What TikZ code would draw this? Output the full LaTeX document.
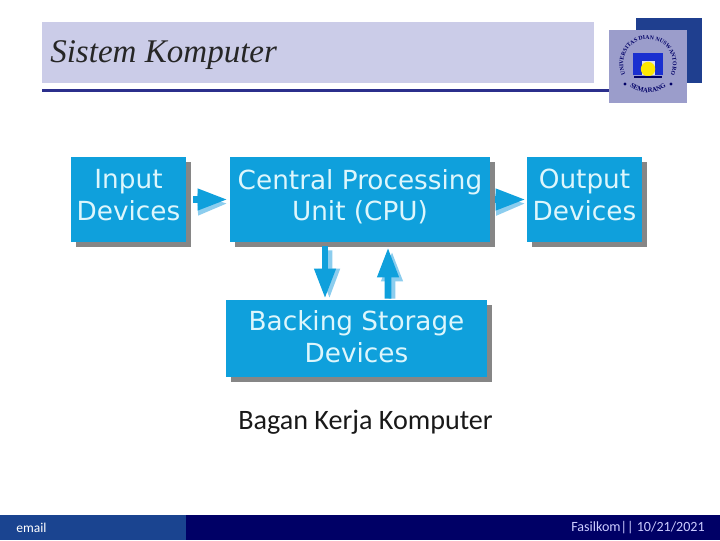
\documentclass[tikz,border=0pt]{standalone}
\usepackage{xcolor}
\usepackage{fontspec}
\setmainfont{Carlito}
\newfontfamily\titlefont{Liberation Serif}
\newfontfamily\boxfont{DejaVu Sans}
\usetikzlibrary{positioning,shapes,arrows.meta,calc,shadows,decorations.text}

\definecolor{headerblue}{HTML}{CBCCE8}
\definecolor{lineblue}{HTML}{2B2F8C}
\definecolor{squareblue}{HTML}{1F3F8F}
\definecolor{logoback}{HTML}{9B9DCB}
\definecolor{logoblue}{HTML}{1A2FD0}
\definecolor{boxblue}{HTML}{0FA0DC}
\definecolor{boxtext}{HTML}{DDF6FC}
\definecolor{arrowlight}{HTML}{8CCDEE}
\definecolor{footleft}{HTML}{1A4490}
\definecolor{footright}{HTML}{000066}

\tikzset{
    unitbox/.style={fill=boxblue, text=boxtext, align=center, inner sep=0pt, text depth=6.4pt,
        font=\boxfont\fontsize{18.7}{22.7}\selectfont,
        drop shadow={shadow xshift=0.125cm, shadow yshift=-0.125cm, fill=gray!95, opacity=1}},
    flowarrow/.style={-{Triangle[length=7.5mm,width=5mm]}, line width=0.165cm, draw=boxblue},
    flowshadow/.style={flowarrow, draw=arrowlight},
}

\begin{document}
\begin{tikzpicture}[x=0.025cm, y=-0.025cm]
    \useasboundingbox (0,0) rectangle (720,540);

    % header
    \fill[squareblue] (636,18) rectangle (702,83);
    \node[fill=headerblue, minimum width=13.8cm, minimum height=1.525cm, inner sep=0pt] (header) at (318,52.5) {};
    \node[anchor=west, inner sep=0pt, font=\titlefont\itshape\fontsize{23.5}{26}\selectfont, text=black!85] (title) at (50,55) {Sistem Komputer};
    \fill[lineblue] (42,89) rectangle (610,92);

    % logo
    \fill[logoback] (609,30) rectangle (687,103);
    \fill[logoblue] (633,53) rectangle (663,75);
    \fill[white!70!logoback] (642,61) rectangle (655,75);
    \fill[yellow!90!orange] (648,69) circle[radius=0.18cm];
    \path[decorate, decoration={text along path, text align=center,
        text={|\titlefont\bfseries\fontsize{4.1}{5}\selectfont\color{footright}|UNIVERSITAS DIAN NUSWANTORO}}]
        (648,64) ++(210:0.62cm) arc[start angle=210, end angle=-30, radius=0.62cm];
    \path[decorate, decoration={text along path, text align=center,
        text={|\titlefont\bfseries\fontsize{4.8}{5}\selectfont\color{footright}|SEMARANG}}]
        (648,64) ++(222:0.72cm) arc[start angle=222, end angle=318, radius=0.72cm];
    \fill[footright] (634,76) rectangle (662,78);
    \fill[footright] (625,84) circle[radius=0.04cm] (671,84) circle[radius=0.04cm];

    % boxes
    \node[unitbox, minimum width=2.875cm, minimum height=2.125cm] (input) at (128.5,199.5) {Input\\Devices};
    \node[unitbox, minimum width=6.5cm, minimum height=2.125cm] (cpu) at (360,199.5) {Central Processing\\Unit (CPU)};
    \node[unitbox, minimum width=2.875cm, minimum height=2.125cm] (output) at (584.5,199.5) {Output\\Devices};
    \node[unitbox, minimum width=6.525cm, minimum height=1.925cm, text depth=3pt] (backing) at (356.5,338.5) {Backing Storage\\Devices};

    % arrows, light copy first
    \draw[flowshadow] ($(input.east)+(13,5)$) -- ($(cpu.west)+(-2,4)$);
    \draw[flowarrow] ($(input.east)+(7,0)$) -- ($(cpu.west)+(-2,0)$);
    \draw[flowshadow] ($(cpu.east)+(10,5)$) -- ($(output.west)+(-1,4)$);
    \draw[flowarrow] ($(cpu.east)+(5,0)$) -- ($(output.west)+(-1,0)$);
    \draw[flowshadow] ($(cpu.south)+(-31,8)$) -- ($(backing.north)+(-27,-1)$);
    \draw[flowarrow] ($(cpu.south)+(-35,4)$) -- ($(backing.north)+(-31.5,-1)$);
    \draw[flowshadow] ($(backing.north)+(35.5,-1)$) -- ($(cpu.south)+(32,9)$);
    \draw[flowarrow] ($(backing.north)+(31.5,-1)$) -- ($(cpu.south)+(28,5)$);

    % caption
    \node[font=\fontsize{20}{24}\selectfont, text=black!90] (caption) at (365.5,422) {Bagan Kerja Komputer};

    % footer
    \node[fill=footright, minimum width=18cm, minimum height=0.625cm, inner sep=0pt] (footbar) at (360,527.5) {};
    \node[fill=footleft, minimum width=4.65cm, minimum height=0.625cm, inner sep=0pt] (footmail) at (93,527.5) {};
    \node[anchor=west, inner sep=0pt, text=white, font=\fontsize{9.6}{11}\selectfont] (email) at (16,527.5) {email};
    \node[anchor=east, inner sep=0pt, text=blue!20, font=\fontsize{10}{11}\selectfont] (date) at (705,527.5) {Fasilkom|| 10/21/2021};
\end{tikzpicture}
\end{document}
